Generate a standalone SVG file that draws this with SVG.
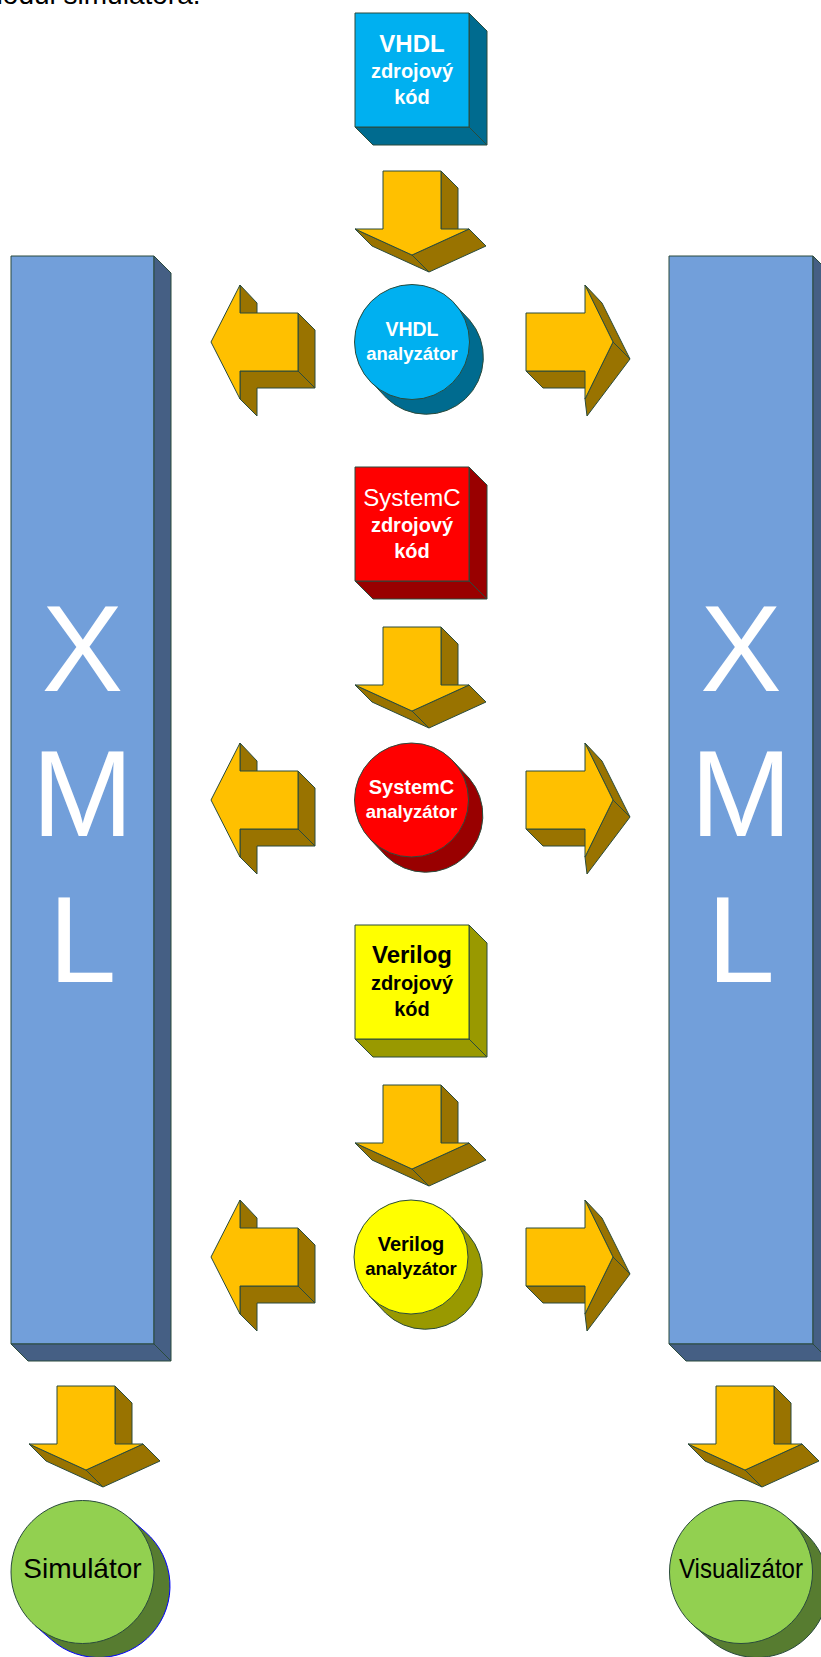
<svg xmlns="http://www.w3.org/2000/svg" width="821" height="1657" viewBox="0 0 821 1657">
<style>
  .o{stroke:#2A4B3C;stroke-width:1;stroke-linejoin:round}
  .af{fill:#FFC000}.ad{fill:#997300}
  .cf{fill:#00B0F0}.cd{fill:#006B8F}
  .rf{fill:#FF0000}.rd{fill:#990000}
  .yf{fill:#FFFF00}.yd{fill:#999900}
  .bf{fill:#729FDA}.bd{fill:#455F84}
  .gf{fill:#92D050}.gd{fill:#577C30}
  text{font-family:"Liberation Sans",Arial,sans-serif;text-anchor:middle}
  .b{font-weight:bold}
  .w{fill:#FFFFFF}.k{fill:#000000}
  .xml{font-size:122px;fill:#FFFFFF}
</style>
<defs>
  <g id="aDown" class="o">
    <path class="ad" d="M58,0 L75,17 L75,75 L58,58 Z"/>
    <path class="ad" d="M-28,58 L29,84 L46,101 L-11,75 Z"/>
    <path class="ad" d="M29,84 L86,58 L103,75 L46,101 Z"/>
    <path class="af" d="M0,0 H58 V58 H86 L29,84 L-28,58 H0 Z"/>
  </g>
  <g id="aLeft" class="o">
    <path class="ad" d="M0,-57 L17,-39 L17,-12 L0,-29 Z"/>
    <path class="ad" d="M58,-29 L75,-12 L75,46 L58,29 Z"/>
    <path class="ad" d="M0,29 L58,29 L75,46 L17,46 L17,74 L0,57 Z"/>
    <path class="af" d="M-29,0 L0,-57 V-29 H58 V29 H0 V57 Z"/>
  </g>
  <g id="aRight" class="o">
    <path class="ad" d="M-59,29 L0,29 L17,46 L-42,46 Z"/>
    <path class="ad" d="M0,-57 L28,0 L45,17 L17,-39 Z"/>
    <path class="ad" d="M28,0 L0,57 L2,74 L45,17 Z"/>
    <path class="af" d="M-59,-29 H0 V-57 L28,0 L0,57 V29 H-59 Z"/>
  </g>
  <path id="cylA" d="M-41.5,39 L-25.5,56 A57,57 0 0 0 57.5,-22 L41.5,-39 Z"/>
  <path id="cylG" d="M-47.1,53.8 L-31.1,67.8 A71.5,71.5 0 0 0 63.1,-39.8 L47.1,-53.8 Z"/>
</defs>

<text x="-20.5" y="4" style="font-size:28px;text-anchor:start" class="k">modul simulátora.</text>

<g id="xml-left" class="o">
  <rect class="bf" x="11" y="256" width="143" height="1088"/>
  <path class="bd" d="M154,256 L171,273 L171,1361 L154,1344 Z"/>
  <path class="bd" d="M11,1344 L154,1344 L171,1361 L28,1361 Z"/>
  <text class="xml" x="82.5" y="691" stroke="none">X</text>
  <text class="xml" x="82.5" y="836" stroke="none">M</text>
  <text class="xml" x="82.5" y="982" stroke="none">L</text>
</g>
<g id="xml-right" class="o">
  <rect class="bf" x="669" y="256" width="144" height="1088"/>
  <path class="bd" d="M813,256 L830,273 L830,1361 L813,1344 Z"/>
  <path class="bd" d="M669,1344 L813,1344 L830,1361 L686,1361 Z"/>
  <text class="xml" x="741" y="691" stroke="none">X</text>
  <text class="xml" x="741" y="836" stroke="none">M</text>
  <text class="xml" x="741" y="982" stroke="none">L</text>
</g>

<g id="vhdl-src" class="o">
  <path class="cd" d="M469,13 L487,31 L487,145 L469,127 Z"/>
  <path class="cd" d="M355,127 L469,127 L487,145 L373,145 Z"/>
  <rect class="cf" x="355" y="13" width="114" height="114"/>
  <g stroke="none" class="w">
    <text class="b" x="412" y="52" style="font-size:24px">VHDL</text>
    <text class="b" x="412" y="78" style="font-size:20px">zdrojový</text>
    <text class="b" x="412" y="104" style="font-size:20px">kód</text>
  </g>
</g>

<g id="vhdl-an" class="o">
  <use href="#cylA" x="412" y="342" class="cd"/>
  <circle class="cf" cx="412" cy="342" r="57.5"/>
  <g stroke="none" class="w">
    <text class="b" x="412" y="336" style="font-size:19.5px">VHDL</text>
    <text class="b" x="412" y="360" style="font-size:18.5px">analyzátor</text>
  </g>
</g>

<g id="systemc-src" class="o">
  <path class="rd" d="M469,467 L487,485 L487,599 L469,581 Z"/>
  <path class="rd" d="M355,581 L469,581 L487,599 L373,599 Z"/>
  <rect class="rf" x="355" y="467" width="114" height="114"/>
  <g stroke="none" class="w">
    <text x="412" y="506" style="font-size:24px">SystemC</text>
    <text class="b" x="412" y="532" style="font-size:20px">zdrojový</text>
    <text class="b" x="412" y="558" style="font-size:20px">kód</text>
  </g>
</g>

<g id="systemc-an" class="o">
  <use href="#cylA" x="411.5" y="800" class="rd"/>
  <circle class="rf" cx="411.5" cy="800" r="57"/>
  <g stroke="none" class="w">
    <text class="b" x="411.5" y="794" style="font-size:20px">SystemC</text>
    <text class="b" x="411.5" y="818" style="font-size:18.5px">analyzátor</text>
  </g>
</g>

<g id="verilog-src" class="o">
  <path class="yd" d="M469,925 L487,943 L487,1057 L469,1039 Z"/>
  <path class="yd" d="M355,1039 L469,1039 L487,1057 L373,1057 Z"/>
  <rect class="yf" x="355" y="925" width="114" height="114"/>
  <g stroke="none" class="k">
    <text class="b" x="412" y="963" style="font-size:24px">Verilog</text>
    <text class="b" x="412" y="990" style="font-size:20px">zdrojový</text>
    <text class="b" x="412" y="1016" style="font-size:20px">kód</text>
  </g>
</g>

<g id="verilog-an" class="o">
  <use href="#cylA" x="411" y="1257" class="yd"/>
  <circle class="yf" cx="411" cy="1257" r="57"/>
  <g stroke="none" class="k">
    <text class="b" x="411" y="1251" style="font-size:20px">Verilog</text>
    <text class="b" x="411" y="1275" style="font-size:18.5px">analyzátor</text>
  </g>
</g>

<g id="simulator" class="o">
  <use href="#cylG" x="82.5" y="1572" class="gd" style="stroke:#0000FF"/>
  <circle class="gf" cx="82.5" cy="1572" r="71.5"/>
  <text class="k" x="82.5" y="1578" stroke="none" style="font-size:28px">Simulátor</text>
</g>

<g id="visualizator" class="o">
  <use href="#cylG" x="741" y="1572" class="gd"/>
  <circle class="gf" cx="741" cy="1572" r="71.5"/>
  <text class="k" x="741" y="1578" stroke="none" style="font-size:28px" textLength="124" lengthAdjust="spacingAndGlyphs">Visualizátor</text>
</g>

<g id="connectors">
  <use href="#aDown" x="383" y="171"/>
  <use href="#aLeft" x="240" y="342"/>
  <use href="#aRight" x="585" y="342"/>
  <use href="#aDown" x="383" y="627"/>
  <use href="#aLeft" x="240" y="800"/>
  <use href="#aRight" x="585" y="800"/>
  <use href="#aDown" x="383" y="1085"/>
  <use href="#aLeft" x="240" y="1257"/>
  <use href="#aRight" x="585" y="1257"/>
  <use href="#aDown" x="57" y="1386"/>
  <use href="#aDown" x="716" y="1386"/>
</g>
</svg>
